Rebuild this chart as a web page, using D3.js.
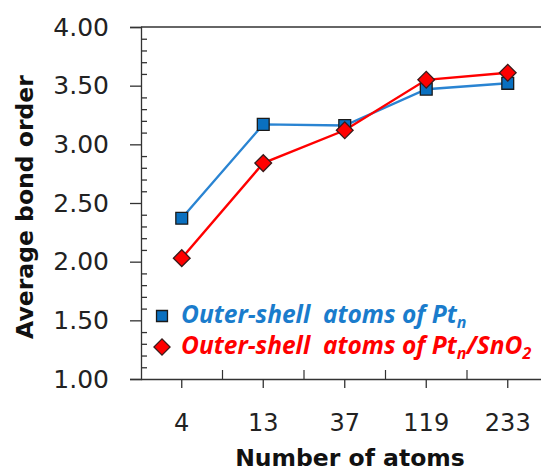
<!DOCTYPE html>
<html>
<head>
<meta charset="utf-8">
<script src="https://cdn.jsdelivr.net/npm/d3@7"></script>
<style>
  html, body { margin: 0; padding: 0; background: #fff; overflow: hidden; }
  svg { display: block; font-family: "DejaVu Sans", "Open Sans", sans-serif; }
  .legend-text { font-family: "Open Sans", "Noto Sans", sans-serif; }
</style>
</head>
<body>
<svg id="chart" width="541" height="471"></svg>
<script>
// Cluster sizes (categorical x axis)
const categories = ["4", "13", "37", "119", "233"];
// Average bond order of outer-shell atoms
const ptValues = [2.37, 3.17, 3.16, 3.47, 3.52];
const ptSnO2Values = [2.03, 2.84, 3.12, 3.55, 3.61];
// Y axis ticks
const yMajorTicks = [1.0, 1.5, 2.0, 2.5, 3.0, 3.5, 4.0];
const yMinorTicks = d3.range(11, 40).map(v => v / 10).filter(v => Math.abs(v * 2 - Math.round(v * 2)) > 1e-6);

const svg = d3.select("#chart");
const plotLeft = 141, plotTop = 27, plotBottom = 379, bandW = 81.5;

const x = d3.scaleBand().domain(categories).range([plotLeft, plotLeft + bandW * categories.length]);
const y = d3.scaleLinear().domain([1, 4]).range([plotBottom, plotTop]);
const cx = c => x(c) + x.bandwidth() / 2;

const axisColor = "#333";

// Frame: top border
svg.append("line").attr("x1", plotLeft).attr("x2", 541).attr("y1", plotTop).attr("y2", plotTop)
  .attr("stroke", axisColor).attr("stroke-width", 1.3);

// Y axis with outside major ticks
const yAxis = svg.append("g").attr("transform", `translate(${plotLeft},0)`)
  .call(d3.axisLeft(y).tickValues(yMajorTicks).tickFormat(d3.format(".2f")).tickSize(11).tickPadding(21));
// Inside minor ticks
svg.append("g").attr("transform", `translate(${plotLeft},0)`)
  .call(d3.axisRight(y).tickValues(yMinorTicks).tickSize(6).tickFormat(""))
  .call(g => g.select(".domain").remove());

// X axis: major ticks at categories (outside), minor ticks between (inside)
const xAxis = svg.append("g").attr("transform", `translate(0,${plotBottom})`)
  .call(d3.axisBottom(x).tickSize(9).tickPadding(26));
const between = categories.slice(1).map(c => x(c));
svg.append("g").selectAll("line").data(between).join("line")
  .attr("x1", d => d).attr("x2", d => d).attr("y1", plotBottom).attr("y2", plotBottom - 9)
  .attr("stroke", axisColor).attr("stroke-width", 1.2);

svg.selectAll(".domain, .tick line").attr("stroke", axisColor).attr("stroke-width", 1.3);
yAxis.selectAll(".tick text").attr("font-size", 25).attr("fill", "#222").attr("font-family", "DejaVu Sans");
xAxis.selectAll(".tick text").attr("font-size", 24).attr("fill", "#222").attr("font-family", "DejaVu Sans");
xAxis.select(".domain").attr("d", `M${plotLeft},0.5H${541}`);

// Axis titles
svg.append("text").attr("x", 350).attr("y", 466).attr("text-anchor", "middle")
  .attr("font-size", 23.5).attr("font-weight", "bold").attr("fill", "#111").text("Number of atoms");
svg.append("text").attr("transform", "translate(33,207) rotate(-90)").attr("text-anchor", "middle")
  .attr("font-size", 23.5).attr("font-weight", "bold").attr("fill", "#111").text("Average bond order");

const blueLine = "#2a84d2", blueFill = "#0a70c0", red = "#ff0000";

const line = d3.line().x((d, i) => cx(categories[i])).y(d => y(d));
svg.append("path").datum(ptValues).attr("d", line).attr("fill", "none")
  .attr("stroke", blueLine).attr("stroke-width", 2.4);
svg.append("path").datum(ptSnO2Values).attr("d", line).attr("fill", "none")
  .attr("stroke", red).attr("stroke-width", 2.4);

const sq = d3.symbol().type(d3.symbolSquare).size(140);

svg.append("g").selectAll("path").data(ptValues).join("path")
  .attr("d", sq).attr("transform", (d, i) => `translate(${cx(categories[i])},${y(d)})`)
  .attr("fill", blueFill).attr("stroke", "#1a1a1a").attr("stroke-width", 1.3);
svg.append("g").selectAll("path").data(ptSnO2Values).join("path")
  .attr("d", sq).attr("transform", (d, i) => `translate(${cx(categories[i])},${y(d)}) rotate(45)`)
  .attr("fill", red).attr("stroke", "#3a1a1a").attr("stroke-width", 1.3);

// Legend
const legend = svg.append("g");
legend.append("path").attr("d", d3.symbol().type(d3.symbolSquare).size(120))
  .attr("transform", "translate(162,316)").attr("fill", blueFill).attr("stroke", "#1a1a1a").attr("stroke-width", 1.3);
legend.append("path").attr("d", d3.symbol().type(d3.symbolSquare).size(130))
  .attr("transform", "translate(162,347) rotate(45)").attr("fill", red).attr("stroke", "#3a1a1a").attr("stroke-width", 1.3);

const t1 = legend.append("text").attr("class", "legend-text").attr("x", 181).attr("y", 323).attr("font-size", 24.5)
  .attr("font-weight", "bold").attr("font-style", "italic").attr("fill", "#1a7ccc")
  .style("white-space", "pre");
t1.append("tspan").text("Outer-shell  atoms of Pt");
t1.append("tspan").attr("font-size", 16).attr("dy", 5).text("n");

const t2 = legend.append("text").attr("class", "legend-text").attr("x", 181).attr("y", 354).attr("font-size", 24.5)
  .attr("font-weight", "bold").attr("font-style", "italic").attr("fill", red)
  .style("white-space", "pre");
t2.append("tspan").text("Outer-shell  atoms of Pt");
t2.append("tspan").attr("font-size", 16).attr("dy", 5).text("n");
t2.append("tspan").attr("dy", -5).text("/SnO");
t2.append("tspan").attr("font-size", 16).attr("dy", 5).text("2");
</script>
</body>
</html>
